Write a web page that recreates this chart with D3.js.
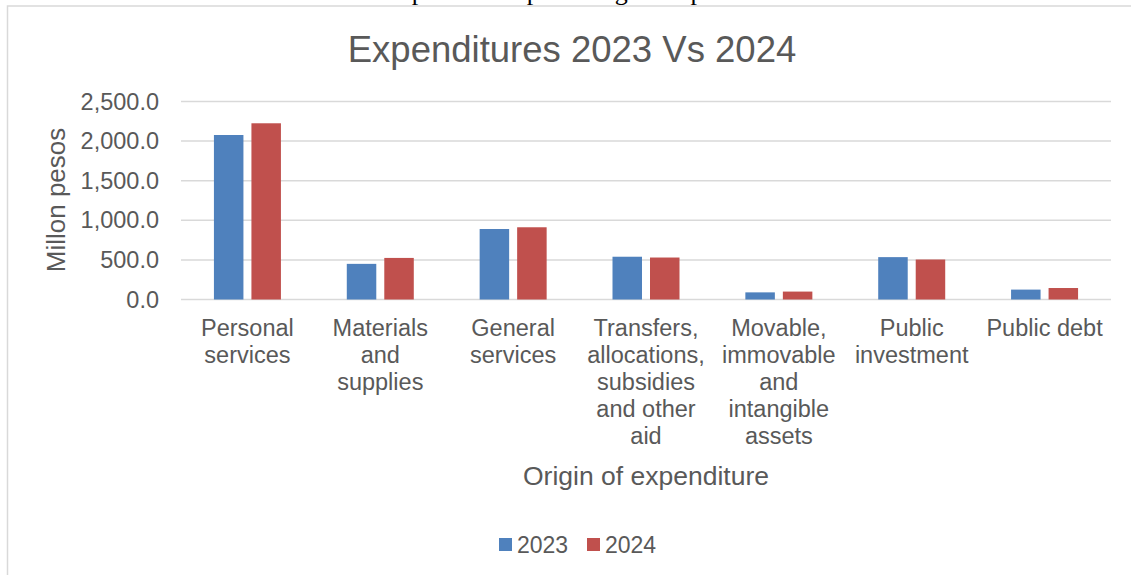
<!DOCTYPE html>
<html>
<head>
<meta charset="utf-8">
<script src="https://cdn.jsdelivr.net/npm/d3@7"></script>
<style>
  body { margin: 0; background: #fff; }
  svg { display: block; font-family: "Liberation Sans", Arial, sans-serif; }
</style>
</head>
<body>
<div id="chart"></div>
<script>
// Data
const categories = ["Personal services", "Materials and supplies", "General services",
  "Transfers, allocations, subsidies and other aid", "Movable, immovable and intangible assets",
  "Public investment", "Public debt"];
const seriesNames = ["2023", "2024"];
const values2023 = [2077, 450, 890, 540, 90, 535, 125];
const values2024 = [2225, 525, 912, 530, 100, 505, 145];
const yTicks = [0, 500, 1000, 1500, 2000, 2500];

const colors = ["#4f81bd", "#c0504d"];
const textColor = "#595959";

const width = 1131, height = 575;
const plot = { left: 181, right: 1111, top: 101.5, bottom: 299.5 };

const svg = d3.select("#chart")
  .append("svg")
  .attr("width", width)
  .attr("height", height);

// Frame of the chart object (partly cut off)
svg.append("path")
  .attr("d", `M7.5,${height} V6 H${width}`)
  .attr("fill", "none")
  .attr("stroke", "#d9d9d9")
  .attr("stroke-width", 1.5);

// Caption of the document, cut off at the top
svg.append("text")
  .attr("x", 575)
  .attr("y", 0)
  .attr("text-anchor", "middle")
  .attr("font-family", "Liberation Serif, Times New Roman, serif")
  .attr("font-size", "26px")
  .attr("fill", "#000")
  .text("Expenditures percentage comparison");

// Title
svg.append("text")
  .attr("x", 572)
  .attr("y", 62)
  .attr("text-anchor", "middle")
  .attr("font-size", "36.5px")
  .attr("fill", textColor)
  .text("Expenditures 2023 Vs 2024");

// Scales
const x0 = d3.scaleBand()
  .domain(categories)
  .range([plot.left, plot.right]);

const y = d3.scaleLinear()
  .domain([0, 2500])
  .range([plot.bottom, plot.top]);

const barW = 29.5, barGap = 8;

// Grid lines
svg.append("g")
  .selectAll("line")
  .data(yTicks)
  .enter()
  .append("line")
  .attr("x1", plot.left)
  .attr("x2", plot.right)
  .attr("y1", d => y(d))
  .attr("y2", d => y(d))
  .attr("stroke", "#d9d9d9")
  .attr("stroke-width", 1.5);

// Y axis labels
const yAxis = svg.append("g")
  .attr("transform", `translate(${plot.left},0)`)
  .call(d3.axisLeft(y).tickValues(yTicks).tickSize(0).tickPadding(22).tickFormat(d3.format(",.1f")));
yAxis.select(".domain").remove();
yAxis.selectAll("text")
  .attr("font-size", "23.5px")
  .attr("font-family", "Liberation Sans, Arial, sans-serif")
  .attr("fill", textColor);

// Bars
const rows = categories.map((c, i) => ({ cat: c, vals: [values2023[i], values2024[i]] }));

const groups = svg.append("g")
  .selectAll("g")
  .data(rows)
  .enter()
  .append("g")
  .attr("transform", d => `translate(${x0(d.cat) + x0.bandwidth() / 2},0)`);

groups.selectAll("rect")
  .data(d => d.vals.map((v, j) => ({ v, j })))
  .enter()
  .append("rect")
  .attr("x", d => d.j === 0 ? -barGap / 2 - barW : barGap / 2)
  .attr("y", d => y(d.v))
  .attr("width", barW)
  .attr("height", d => y(0) - y(d.v))
  .attr("fill", d => colors[d.j]);

// Category labels, wrapped like Excel does
function wrap(label, maxW, measure) {
  const words = label.split(" ");
  const lines = [];
  let line = words[0];
  for (let k = 1; k < words.length; k++) {
    const test = line + " " + words[k];
    if (measure(test) > maxW) { lines.push(line); line = words[k]; }
    else line = test;
  }
  lines.push(line);
  return lines;
}

const measurer = svg.append("text").attr("font-size", "23.5px").attr("visibility", "hidden");
const measure = s => { measurer.text(s); return measurer.node().getComputedTextLength(); };

const catLabels = svg.append("g");
categories.forEach(c => {
  const lines = wrap(c, 128, measure);
  const t = catLabels.append("text")
    .attr("text-anchor", "middle")
    .attr("font-size", "23.5px")
    .attr("fill", textColor);
  lines.forEach((ln, k) => {
    t.append("tspan")
      .attr("x", x0(c) + x0.bandwidth() / 2)
      .attr("y", 336 + k * 27)
      .text(ln);
  });
});
measurer.remove();

// Axis titles
svg.append("text")
  .attr("x", 646)
  .attr("y", 485)
  .attr("text-anchor", "middle")
  .attr("font-size", "26.5px")
  .attr("fill", textColor)
  .text("Origin of expenditure");

svg.append("text")
  .attr("transform", "translate(65,200) rotate(-90)")
  .attr("text-anchor", "middle")
  .attr("font-size", "26px")
  .attr("fill", textColor)
  .text("Millon pesos");

// Legend
const legend = svg.append("g")
  .selectAll("g")
  .data(seriesNames)
  .enter()
  .append("g")
  .attr("transform", (d, i) => `translate(${499 + i * 88},0)`);

legend.append("rect")
  .attr("x", 0)
  .attr("y", 538)
  .attr("width", 13)
  .attr("height", 13)
  .attr("fill", (d, i) => colors[i]);

legend.append("text")
  .attr("x", 18)
  .attr("y", 553)
  .attr("font-size", "23px")
  .attr("fill", textColor)
  .text(d => d);
</script>
</body>
</html>
